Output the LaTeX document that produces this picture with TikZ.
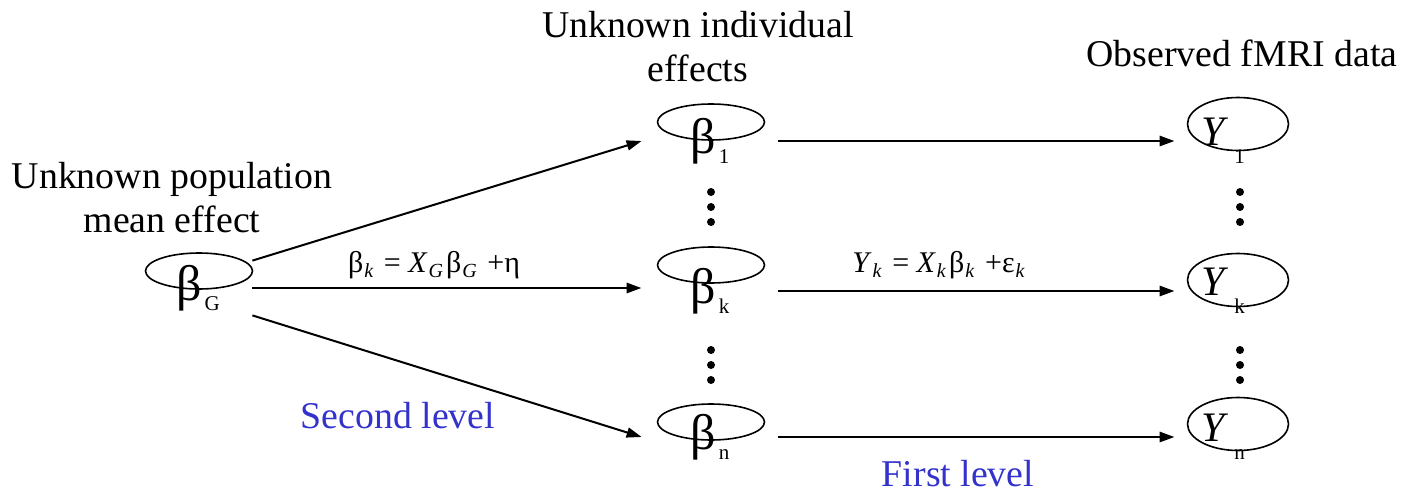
\documentclass[tikz,border=0pt]{standalone}
\usepackage{fontspec}
\setmainfont{Liberation Serif}
\usetikzlibrary{arrows.meta, shapes.geometric}
\definecolor{levelblue}{RGB}{51,51,204}

\newcommand{\betasub}[1]{{\fontsize{25}{25}\selectfont β}\kern1.5pt\raisebox{-5pt}{\fontsize{10.5}{10.5}\selectfont #1}}
\newcommand{\ysub}[1]{{\fontsize{21}{21}\selectfont\textit{Y}}\kern3pt\raisebox{-9pt}{\fontsize{10.5}{10.5}\selectfont #1}}
\newcommand{\eqsub}[1]{\kern0.5pt\raisebox{-2.5pt}{\fontsize{10}{10}\selectfont\textit{#1}}\kern1.5pt\relax}

\begin{document}
\begin{tikzpicture}[x=0.5pt, y=-0.5pt,
  ring/.style={draw, ellipse, line width=0.8pt, minimum width=53.5pt, minimum height=18pt, inner sep=0pt},
  obs/.style={draw, ellipse, line width=0.8pt, minimum width=50.5pt, minimum height=26.5pt, inner sep=0pt},
  popvar/.style={inner sep=0pt, minimum width=54pt, minimum height=27pt},
  indvar/.style={inner sep=0pt, minimum width=68pt, minimum height=21pt},
  datvar/.style={inner sep=0pt, minimum width=48pt, minimum height=21pt},
  arr/.style={-{Triangle[length=7.5pt,width=5pt]}, line width=1.4pt},
  slant/.style={arr, line width=1pt},
  capt/.style={font=\fontsize{18.9}{22}\selectfont, align=center, anchor=base, inner sep=0pt},
  eqn/.style={font=\fontsize{15}{16}\selectfont, anchor=base, inner sep=0pt},
  lvl/.style={capt, text=levelblue}
]
\useasboundingbox (0,0) rectangle (1401,492);

% --- ellipses ---
\node[ring] (eG) at (199,271) {};
\node[ring] (e1) at (711,122) {};
\node[ring] (ek) at (711,265) {};
\node[ring] (en) at (711,422) {};
\node[obs]  (o1) at (1238,124) {};
\node[obs]  (ok) at (1238,280) {};
\node[obs]  (on) at (1238,424) {};

% --- variables ---
\node[popvar] (bG) at (198,288) {\betasub{G}};
\node[indvar] (b1) at (710,141) {\betasub{1}};
\node[indvar] (bk) at (710,291) {\betasub{k}};
\node[indvar] (bn) at (710,437) {\betasub{n}};
\node[datvar] (y1) at (1223,141) {\ysub{1}};
\node[datvar] (yk) at (1223,291) {\ysub{k}};
\node[datvar] (yn) at (1223,437) {\ysub{n}};

% --- vertical dots ---
\foreach \xx in {711,1240} {
  \foreach \yy in {192,207,222,350,365,380}
    \fill (\xx,\yy) circle (2pt);
}

% --- captions ---
\node[capt] (indiv) at (698,82) {Unknown individual\\effects};
\node[capt] (obsd)  at (1242,67) {Observed fMRI data};
\node[capt] (popu)  at (172,232) {Unknown population\\mean effect};
\node[lvl] (second) at (398,428) {Second level};
\node[lvl] (first)  at (958,486) {First level};
\node[eqn] (eq2nd) at (434,272) {β\eqsub{k} = \textit{X}\eqsub{G}β\eqsub{G} +η};
\node[eqn] (eq1st) at (940,272) {\textit{Y}\eqsub{k} = \textit{X}\eqsub{k}β\eqsub{k} +ε\eqsub{k}};

% --- arrows ---
\draw[slant] (bG.north east) -- (b1.west);
\draw[arr] (bG.east) -- (bG.east -| bk.west);
\draw[slant] (bG.south east) -- (bn.west);
\draw[arr] (b1) -- (y1);
\draw[arr] (bk) -- (yk);
\draw[arr] (bn) -- (yn);

\end{tikzpicture}
\end{document}
